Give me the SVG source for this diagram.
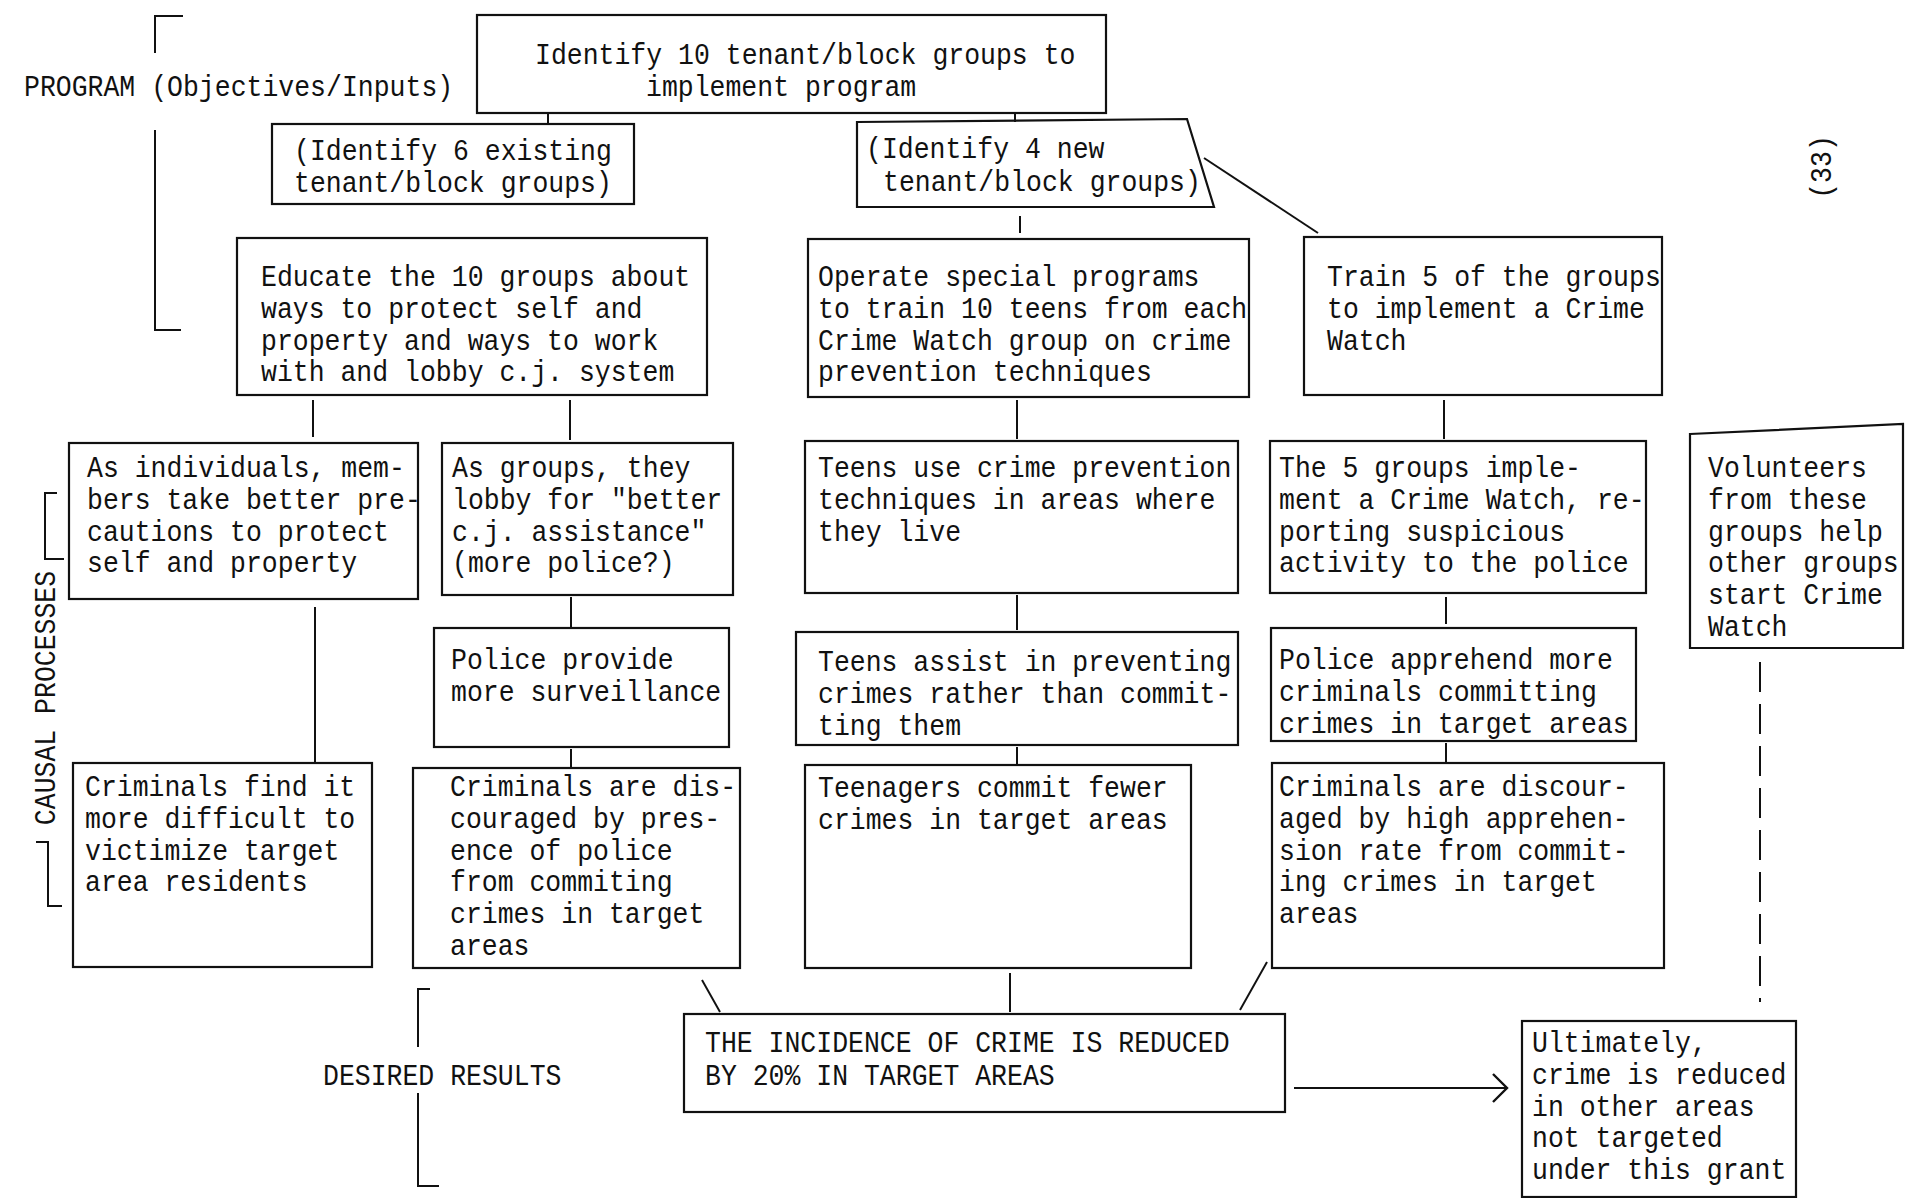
<svg xmlns="http://www.w3.org/2000/svg" width="1905" height="1198" viewBox="0 0 1905 1198">
<style>
.box{fill:none;stroke:#111;stroke-width:2.2}
.ln{fill:none;stroke:#111;stroke-width:2}
.dash{fill:none;stroke:#111;stroke-width:2;stroke-dasharray:30 12}
.t{font-family:"Liberation Mono","DejaVu Sans Mono",monospace;font-size:26.5px;fill:#111}
</style>
<defs>
<marker id="chev" markerWidth="20" markerHeight="32" refX="16" refY="16" orient="auto" markerUnits="userSpaceOnUse">
<path d="M2 2 L16 16 L2 30" fill="none" stroke="#111" stroke-width="2.4"/>
</marker>
</defs>
<rect width="1905" height="1198" fill="#fff"/>

<g id="labels">
<text class="t" transform="translate(24 96) scale(1 1.1)">PROGRAM (Objectives/Inputs)</text>
<path class="ln" d="M183 16 H155 V53 M155 130 V330 H181"/>
<text class="t" text-anchor="middle" transform="translate(55 698) rotate(-90) scale(1 1.1)">CAUSAL PROCESSES</text>
<path class="ln" d="M57 493 H45 V559 H64 M36 842 H48 V906 H62"/>
<text class="t" transform="translate(323 1085) scale(1 1.1)">DESIRED RESULTS</text>
<path class="ln" d="M430 989 H418 V1047 M418 1093 V1186 H439"/>
<text class="t" text-anchor="middle" transform="translate(1831 167) rotate(-90) scale(1 1.1)">(33)</text>
</g>

<g id="connectors">
<line class="ln" x1="548" y1="113" x2="548" y2="124"/>
<line class="ln" x1="1015" y1="113" x2="1015" y2="122"/>
<line class="ln" x1="1020" y1="216" x2="1020" y2="233"/>
<line class="ln" x1="1204" y1="158" x2="1318" y2="233"/>
<line class="ln" x1="313" y1="400" x2="313" y2="437"/>
<line class="ln" x1="570" y1="400" x2="570" y2="440"/>
<line class="ln" x1="1017" y1="400" x2="1017" y2="439"/>
<line class="ln" x1="1444" y1="400" x2="1444" y2="439"/>
<line class="ln" x1="315" y1="607" x2="315" y2="763"/>
<line class="ln" x1="571" y1="597" x2="571" y2="628"/>
<line class="ln" x1="571" y1="749" x2="571" y2="768"/>
<line class="ln" x1="1017" y1="595" x2="1017" y2="630"/>
<line class="ln" x1="1017" y1="747" x2="1017" y2="765"/>
<line class="ln" x1="1446" y1="597" x2="1446" y2="624"/>
<line class="ln" x1="1446" y1="743" x2="1446" y2="763"/>
<line class="dash" x1="1760" y1="662" x2="1760" y2="1002"/>
<line class="ln" x1="702" y1="980" x2="720" y2="1012"/>
<line class="ln" x1="1010" y1="973" x2="1010" y2="1012"/>
<line class="ln" x1="1267" y1="962" x2="1240" y2="1010"/>
<line class="ln" x1="1294" y1="1088" x2="1507" y2="1088" marker-end="url(#chev)"/>
</g>

<g id="n-top">
<rect class="box" x="477" y="15" width="629" height="98"/>
<text class="t" transform="translate(535 64) scale(1 1.1)"><tspan x="0" y="0">Identify 10 tenant/block groups to</tspan><tspan x="111" y="28.9">implement program</tspan></text>
</g>

<g id="n-existing">
<rect class="box" x="272" y="124" width="362" height="80"/>
<text class="t" transform="translate(294 160) scale(1 1.1)"><tspan x="0" y="0">(Identify 6 existing</tspan><tspan x="0" y="28.9">tenant/block groups)</tspan></text>
</g>

<g id="n-new">
<polygon class="box" points="857,122 1187,119 1214,207 857,207"/>
<text class="t" transform="translate(866 158) scale(1 1.1)"><tspan x="0" y="0">(Identify 4 new</tspan><tspan x="17" y="30">tenant/block groups)</tspan></text>
</g>

<g id="n-educate">
<rect class="box" x="237" y="238" width="470" height="157"/>
<text class="t" transform="translate(261 286) scale(1 1.1)"><tspan x="0" y="0">Educate the 10 groups about</tspan><tspan x="0" y="28.9">ways to protect self and</tspan><tspan x="0" y="57.8">property and ways to work</tspan><tspan x="0" y="86.7">with and lobby c.j. system</tspan></text>
</g>

<g id="n-operate">
<rect class="box" x="808" y="239" width="441" height="158"/>
<text class="t" transform="translate(818 286) scale(1 1.1)"><tspan x="0" y="0">Operate special programs</tspan><tspan x="0" y="28.9">to train 10 teens from each</tspan><tspan x="0" y="57.8">Crime Watch group on crime</tspan><tspan x="0" y="86.7">prevention techniques</tspan></text>
</g>

<g id="n-train">
<rect class="box" x="1304" y="237" width="358" height="158"/>
<text class="t" transform="translate(1327 286) scale(1 1.1)"><tspan x="0" y="0">Train 5 of the groups</tspan><tspan x="0" y="28.9">to implement a Crime</tspan><tspan x="0" y="57.8">Watch</tspan></text>
</g>

<g id="n-individuals">
<rect class="box" x="69" y="443" width="349" height="156"/>
<text class="t" transform="translate(87 477) scale(1 1.1)"><tspan x="0" y="0">As individuals, mem-</tspan><tspan x="0" y="28.9">bers take better pre-</tspan><tspan x="0" y="57.8">cautions to protect</tspan><tspan x="0" y="86.7">self and property</tspan></text>
</g>

<g id="n-groups">
<rect class="box" x="442" y="443" width="291" height="152"/>
<text class="t" transform="translate(452 477) scale(1 1.1)"><tspan x="0" y="0">As groups, they</tspan><tspan x="0" y="28.9">lobby for "better</tspan><tspan x="0" y="57.8">c.j. assistance"</tspan><tspan x="0" y="86.7">(more police?)</tspan></text>
</g>

<g id="n-teens-use">
<rect class="box" x="805" y="441" width="433" height="152"/>
<text class="t" transform="translate(818 477) scale(1 1.1)"><tspan x="0" y="0">Teens use crime prevention</tspan><tspan x="0" y="28.9">techniques in areas where</tspan><tspan x="0" y="57.8">they live</tspan></text>
</g>

<g id="n-five-groups">
<rect class="box" x="1270" y="441" width="376" height="152"/>
<text class="t" transform="translate(1279 477) scale(1 1.1)"><tspan x="0" y="0">The 5 groups imple-</tspan><tspan x="0" y="28.9">ment a Crime Watch, re-</tspan><tspan x="0" y="57.8">porting suspicious</tspan><tspan x="0" y="86.7">activity to the police</tspan></text>
</g>

<g id="n-volunteers">
<polygon class="box" points="1690,434 1903,424 1903,648 1690,648"/>
<text class="t" transform="translate(1708 477) scale(1 1.1)"><tspan x="0" y="0">Volunteers</tspan><tspan x="0" y="28.9">from these</tspan><tspan x="0" y="57.8">groups help</tspan><tspan x="0" y="86.7">other groups</tspan><tspan x="0" y="115.6">start Crime</tspan><tspan x="0" y="144.5">Watch</tspan></text>
</g>

<g id="n-police-provide">
<rect class="box" x="434" y="628" width="295" height="119"/>
<text class="t" transform="translate(451 669) scale(1 1.1)"><tspan x="0" y="0">Police provide</tspan><tspan x="0" y="28.9">more surveillance</tspan></text>
</g>

<g id="n-teens-assist">
<rect class="box" x="796" y="632" width="442" height="113"/>
<text class="t" transform="translate(818 671) scale(1 1.1)"><tspan x="0" y="0">Teens assist in preventing</tspan><tspan x="0" y="28.9">crimes rather than commit-</tspan><tspan x="0" y="57.8">ting them</tspan></text>
</g>

<g id="n-police-apprehend">
<rect class="box" x="1271" y="628" width="365" height="113"/>
<text class="t" transform="translate(1279 669) scale(1 1.1)"><tspan x="0" y="0">Police apprehend more</tspan><tspan x="0" y="28.9">criminals committing</tspan><tspan x="0" y="57.8">crimes in target areas</tspan></text>
</g>

<g id="n-criminals-find">
<rect class="box" x="73" y="763" width="299" height="204"/>
<text class="t" transform="translate(85 796) scale(1 1.1)"><tspan x="0" y="0">Criminals find it</tspan><tspan x="0" y="28.9">more difficult to</tspan><tspan x="0" y="57.8">victimize target</tspan><tspan x="0" y="86.7">area residents</tspan></text>
</g>

<g id="n-criminals-police">
<rect class="box" x="413" y="768" width="327" height="200"/>
<text class="t" transform="translate(450 796) scale(1 1.1)"><tspan x="0" y="0">Criminals are dis-</tspan><tspan x="0" y="28.9">couraged by pres-</tspan><tspan x="0" y="57.8">ence of police</tspan><tspan x="0" y="86.7">from commiting</tspan><tspan x="0" y="115.6">crimes in target</tspan><tspan x="0" y="144.5">areas</tspan></text>
</g>

<g id="n-teenagers">
<rect class="box" x="805" y="765" width="386" height="203"/>
<text class="t" transform="translate(818 797) scale(1 1.1)"><tspan x="0" y="0">Teenagers commit fewer</tspan><tspan x="0" y="28.9">crimes in target areas</tspan></text>
</g>

<g id="n-criminals-apprehension">
<rect class="box" x="1272" y="763" width="392" height="205"/>
<text class="t" transform="translate(1279 796) scale(1 1.1)"><tspan x="0" y="0">Criminals are discour-</tspan><tspan x="0" y="28.9">aged by high apprehen-</tspan><tspan x="0" y="57.8">sion rate from commit-</tspan><tspan x="0" y="86.7">ing crimes in target</tspan><tspan x="0" y="115.6">areas</tspan></text>
</g>

<g id="n-incidence">
<rect class="box" x="684" y="1014" width="601" height="98"/>
<text class="t" transform="translate(705 1052) scale(1 1.1)"><tspan x="0" y="0">THE INCIDENCE OF CRIME IS REDUCED</tspan><tspan x="0" y="30">BY 20% IN TARGET AREAS</tspan></text>
</g>

<g id="n-ultimately">
<rect class="box" x="1522" y="1021" width="274" height="176"/>
<text class="t" transform="translate(1532 1052) scale(1 1.1)"><tspan x="0" y="0">Ultimately,</tspan><tspan x="0" y="28.9">crime is reduced</tspan><tspan x="0" y="57.8">in other areas</tspan><tspan x="0" y="86.7">not targeted</tspan><tspan x="0" y="115.6">under this grant</tspan></text>
</g>
</svg>
